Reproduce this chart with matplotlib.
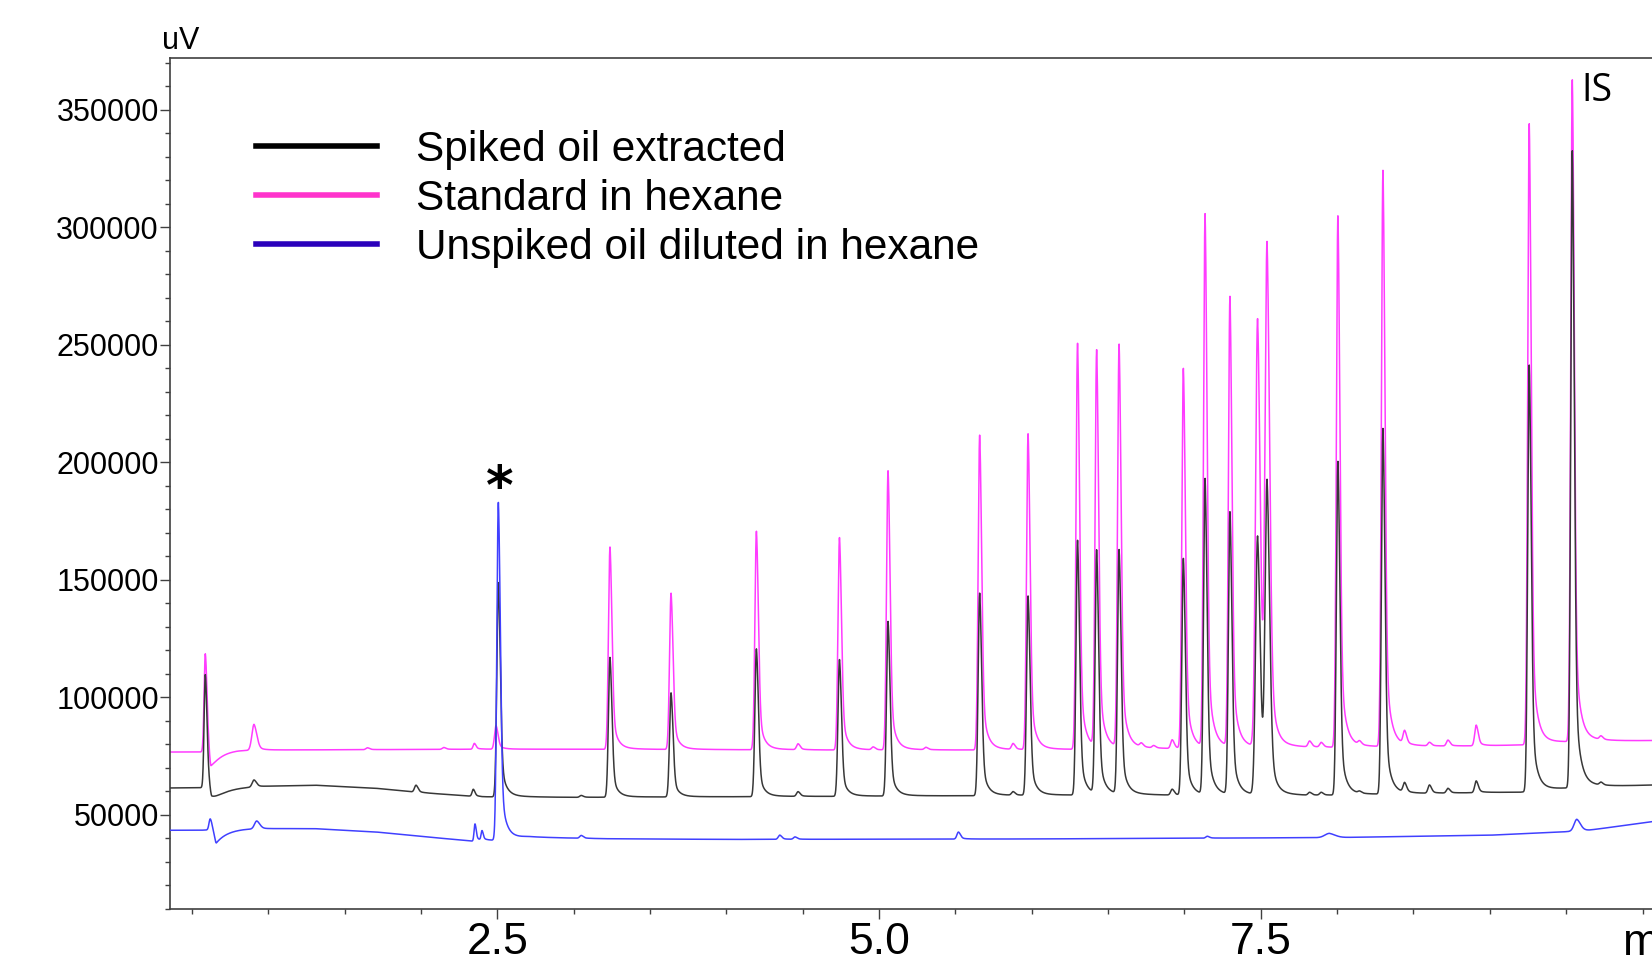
import numpy as np
import matplotlib
matplotlib.use("Agg")
import matplotlib.pyplot as plt
from matplotlib.lines import Line2D
from matplotlib.ticker import MultipleLocator, FixedLocator

# ---------------- data ----------------
series_names = ["Spiked oil extracted", "Standard in hexane", "Unspiked oil diluted in hexane"]

# baselines: (time [min], signal [uV])
spiked_base_t = [0.35, 0.55, 0.9, 1.3, 1.7, 2.0, 2.4, 2.5, 3.0, 5.0, 6.5, 7.8, 8.5, 9.0, 9.2, 9.6, 10.1]
spiked_base_v = [61300, 61400, 62000, 62500, 61200, 59300, 57500, 57500, 57300, 57800, 58300, 58000, 58800, 59400, 59500, 61500, 62600]
standard_base_t = [0.35, 0.55, 0.8, 2.4, 3.0, 5.0, 6.0, 7.0, 8.0, 9.0, 9.2, 9.6, 10.1]
standard_base_v = [76600, 76600, 77400, 77800, 77800, 77400, 77500, 78000, 78500, 79300, 79600, 81000, 81500]
unspiked_base_t = [0.35, 0.55, 0.85, 1.3, 1.7, 2.0, 2.35, 2.5, 2.7, 3.2, 4.0, 5.0, 6.0, 7.0, 8.0, 9.0, 9.45, 9.65, 10.1]
unspiked_base_v = [43300, 43300, 44000, 44000, 42600, 40700, 38600, 39000, 40300, 39700, 39400, 39500, 39600, 39900, 40200, 41200, 42500, 43300, 47300]

# peaks: retention time [min], height above baseline [uV], width (sigma, min)
spiked_peak_t = [0.588, 0.907, 1.968, 2.343, 2.507, 3.05, 3.238, 3.638, 4.197, 4.47, 4.741, 5.059,
                 5.659, 5.878, 5.976, 6.30, 6.425, 6.572, 6.92, 6.993, 7.135, 7.298, 7.479, 7.541,
                 7.82, 7.896, 8.005, 8.147, 8.30, 8.442, 8.605, 8.726, 8.911, 9.258, 9.54, 9.728]
spiked_peak_h = [48100, 3000, 3000, 3000, 91200, 800, 59500, 44300, 62900, 2000, 58200, 74300,
                 86200, 1500, 84800, 108400, 103500, 103800, 2500, 100700, 134300, 120100, 110000, 130000,
                 1200, 1200, 142000, 800, 155600, 4000, 3500, 2000, 5000, 181500, 271100, 1200]
spiked_peak_w = [0.008, 0.012, 0.01, 0.008, 0.01, 0.01, 0.01, 0.01, 0.01, 0.01, 0.01, 0.01,
                 0.01, 0.01, 0.01, 0.01, 0.01, 0.01, 0.01, 0.01, 0.01, 0.01, 0.013, 0.013,
                 0.01, 0.01, 0.01, 0.01, 0.01, 0.01, 0.01, 0.01, 0.01, 0.01, 0.01, 0.01]

standard_peak_t = [0.588, 0.907, 1.65, 2.15, 2.35, 2.492, 3.238, 3.638, 4.197, 4.47, 4.741, 4.962,
                   5.059, 5.307, 5.659, 5.878, 5.976, 6.30, 6.425, 6.572, 6.718, 6.799, 6.92, 6.993,
                   7.135, 7.298, 7.479, 7.541, 7.82, 7.896, 8.005, 8.147, 8.30, 8.442, 8.605, 8.726,
                   8.911, 9.258, 9.54, 9.728]
standard_peak_h = [41700, 11000, 800, 800, 2500, 10000, 86100, 66500, 93000, 2500, 90400, 1200,
                   118800, 1000, 134000, 2500, 134400, 172800, 168700, 171300, 1500, 1000, 3700, 161700,
                   226700, 191300, 182000, 208000, 2500, 2000, 226200, 1500, 245200, 5500, 1500, 2500,
                   8800, 264200, 281600, 1500]
standard_peak_w = [0.008, 0.014, 0.01, 0.01, 0.008, 0.01, 0.01, 0.01, 0.01, 0.01, 0.01, 0.01,
                   0.01, 0.01, 0.01, 0.01, 0.01, 0.01, 0.01, 0.01, 0.01, 0.01, 0.01, 0.01,
                   0.01, 0.01, 0.013, 0.013, 0.01, 0.01, 0.01, 0.01, 0.01, 0.01, 0.01, 0.01,
                   0.01, 0.01, 0.01, 0.01]

unspiked_peak_t = [0.62, 0.925, 2.354, 2.40, 2.507, 3.05, 4.35, 4.45, 5.52, 7.15, 7.95, 9.57]
unspiked_peak_h = [4700, 3400, 7400, 4000, 143700, 1200, 1800, 1000, 3000, 800, 1800, 5000]
unspiked_peak_w = [0.008, 0.015, 0.006, 0.006, 0.01, 0.01, 0.01, 0.01, 0.01, 0.01, 0.03, 0.018]

# negative baseline disturbances after the solvent peak: time, depth, width, recovery time
spiked_dip = (0.63, -7000, 0.012, 0.09)
standard_dip = (0.625, -9500, 0.010, 0.06)
unspiked_dip = (0.66, -6000, 0.012, 0.07)

y_ticks = [50000, 100000, 150000, 200000, 250000, 300000, 350000]
x_ticks = [2.5, 5.0, 7.5]
x_tick_labels = ["2.5", "5.0", "7.5"]

# ---------------- peak model ----------------
TAIL_F, TAU1 = 0.25, 0.03
LONG_F, TAU2 = 0.012, 0.12


def peak(t, t0, h, s):
    dt = t - t0
    left = np.exp(-0.5 * (dt / s) ** 2)
    d = np.clip(dt, 0, None)
    right = ((1 - TAIL_F - LONG_F) * np.exp(-0.5 * (d / (1.3 * s)) ** 2)
             + TAIL_F * np.exp(-d / TAU1) + LONG_F * np.exp(-d / TAU2))
    return h * np.where(dt < 0, left, right)


def dip(t, t0, h, s, tau):
    dt = t - t0
    left = np.exp(-0.5 * (dt / s) ** 2)
    right = np.exp(-np.clip(dt, 0, None) / tau)
    return h * np.where(dt < 0, left, right)


def trace(t, bt, bv, pt, ph, pw, dp):
    y = np.interp(t, bt, bv)
    for t0, h, s in zip(pt, ph, pw):
        y = y + peak(t, t0, h, s)
    y = y + dip(t, *dp)
    return y


t = np.arange(0.355, 10.07, 0.001)
y_spiked = trace(t, spiked_base_t, spiked_base_v, spiked_peak_t, spiked_peak_h, spiked_peak_w, spiked_dip)
y_standard = trace(t, standard_base_t, standard_base_v, standard_peak_t, standard_peak_h, standard_peak_w, standard_dip)
y_unspiked = trace(t, unspiked_base_t, unspiked_base_v, unspiked_peak_t, unspiked_peak_h, unspiked_peak_w, unspiked_dip)

# ---------------- figure ----------------
plt.rcParams["font.family"] = ["Liberation Sans", "DejaVu Sans"]
W, H = 1652, 961
fig = plt.figure(figsize=(W / 100, H / 100), dpi=100)
ax = fig.add_axes([170 / W, (H - 908.5) / H, (W - 170) / W, (908.5 - 58) / H])

ax.plot(t, y_standard, color="#ff3cff", lw=1.1, zorder=2)
ax.plot(t, y_spiked, color="#383838", lw=1.1, zorder=3)
ax.plot(t, y_unspiked, color="#4040ff", lw=1.1, zorder=4)

x_left = 2.5 - (497.3 - 170) / 152.7
x_right = 2.5 + (W - 497.3) / 152.7
ax.set_xlim(x_left, x_right)
ax.set_ylim(10000, 372000)

for side in ["top", "left", "bottom"]:
    ax.spines[side].set_color("#404040")
    ax.spines[side].set_linewidth(1.2)
ax.spines["right"].set_visible(False)

ax.yaxis.set_major_locator(FixedLocator(y_ticks))
ax.yaxis.set_minor_locator(MultipleLocator(10000))
ax.set_yticklabels([str(v) for v in y_ticks])
ax.xaxis.set_major_locator(FixedLocator(x_ticks))
ax.set_xticklabels(x_tick_labels)
ax.xaxis.set_minor_locator(MultipleLocator(0.5))

ax.tick_params(axis="y", which="major", direction="out", length=7, width=1.0, color="#404040",
               labelsize=22, pad=1)
ax.tick_params(axis="y", which="minor", direction="out", length=3.5, width=1.0, color="#404040")
ax.tick_params(axis="x", which="major", direction="out", length=7, width=1.0, color="#404040",
               labelsize=32, pad=3)
ax.tick_params(axis="x", which="minor", direction="out", length=3.5, width=1.0, color="#404040")

# axis unit labels
fig.text(180.5 / W, 1 - 41 / H, "uV", fontsize=22, ha="center", va="center")
ax.annotate("min", xy=(9.87, 0), xycoords=("data", "axes fraction"), xytext=(0, -10.5),
            textcoords="offset points", ha="left", va="top", fontsize=32, annotation_clip=False)

# annotations
ax.text(2.518, 182000, "*", fontsize=38, fontweight="bold", family="DejaVu Sans",
        ha="center", va="baseline", zorder=6)
ax.text(9.60, 358000, "IS", fontsize=27, family="Open Sans", ha="left", va="center", zorder=6)

# legend
handles = [Line2D([], [], color="#000000", lw=4),
           Line2D([], [], color="#ff33cc", lw=4),
           Line2D([], [], color="#2a00bb", lw=4)]
ax.legend(handles, series_names, loc="upper left", bbox_to_anchor=(256 / W, 1 - 129.5 / H),
          bbox_transform=fig.transFigure, frameon=False, fontsize=30.5, handlelength=2.86,
          handletextpad=0.92, labelspacing=0.22, borderpad=0, borderaxespad=0)

fig.savefig("out.png", dpi=100)
